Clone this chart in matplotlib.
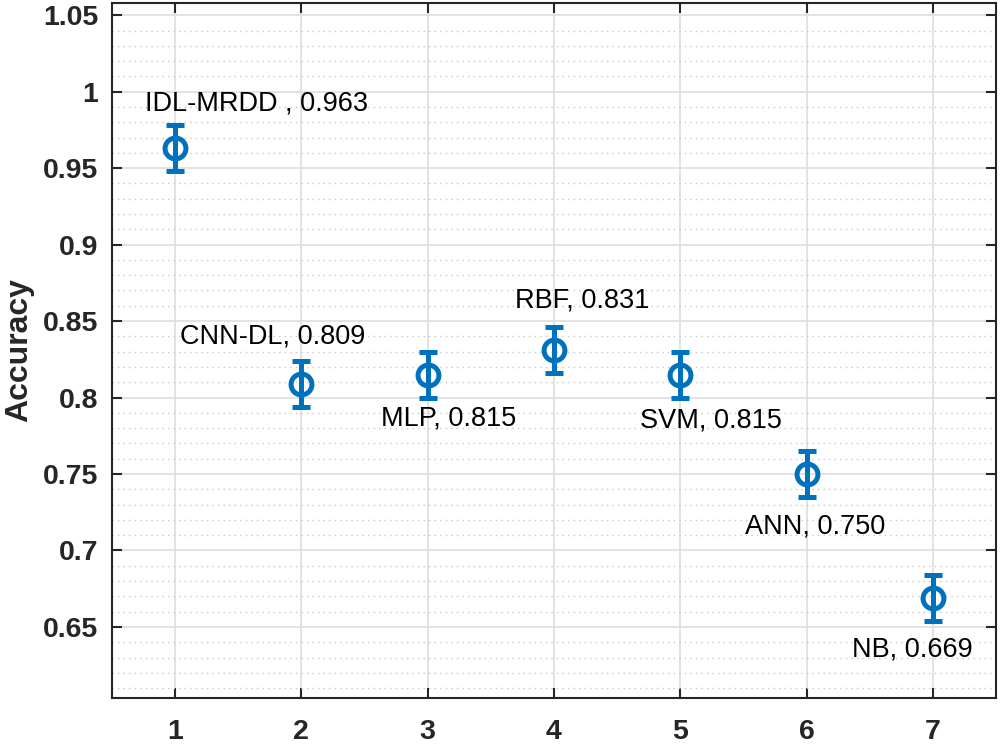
import matplotlib.pyplot as plt
from matplotlib.ticker import MultipleLocator

plt.rcParams["font.family"] = ["Liberation Sans", "DejaVu Sans"]

methods = ["IDL-MRDD ", "CNN-DL", "MLP", "RBF", "SVM", "ANN", "NB"]
x_pos = [1, 2, 3, 4, 5, 6, 7]
accuracy = [0.963, 0.809, 0.815, 0.831, 0.815, 0.750, 0.669]
err = [0.015, 0.015, 0.015, 0.015, 0.015, 0.015, 0.015]
# label anchor (left edge, vertical centre) in data units
label_x = [0.76, 1.04, 2.63, 3.69, 4.68, 5.51, 6.36]
label_y = [0.9925, 0.840, 0.7866, 0.8637, 0.785, 0.7154, 0.635]

fig = plt.figure(figsize=(10, 7.48), dpi=100)
ax = fig.add_axes([0.112, 0.0668, 0.884, 0.9292])

ax.errorbar(
    x_pos, accuracy, yerr=err,
    fmt="o", color="#0072BD", markerfacecolor="none",
    markersize=15, markeredgewidth=3.6, elinewidth=3.6,
    capsize=6.5, capthick=3.6, zorder=3,
)

for lx, ly, name, acc in zip(label_x, label_y, methods, accuracy):
    ax.text(lx, ly, f"{name}, {acc:.3f}", fontsize=19.5, ha="left",
            va="center", color="black")

ax.set_xlim(0.5, 7.5)
ax.set_ylim(0.6035, 1.058)
ax.set_xticks(x_pos)
ax.yaxis.set_major_locator(MultipleLocator(0.05))
ax.yaxis.set_minor_locator(MultipleLocator(0.01))
ax.set_yticklabels([f"{v:g}" for v in ax.get_yticks()])

ax.grid(True, which="major", color="#dedede", linewidth=1.2)
ax.grid(True, which="minor", axis="y", color="#c8c8c8", linestyle=(0, (1, 3)),
        linewidth=1)
ax.set_axisbelow(True)

ax.tick_params(axis="both", which="major", direction="in", length=7, width=1.5,
               top=True, right=True, labelsize=20.5, colors="#262626")
ax.tick_params(axis="x", which="major", pad=15)
ax.tick_params(axis="y", which="major", pad=10)
ax.tick_params(axis="both", which="minor", length=0)
for lbl in ax.get_xticklabels() + ax.get_yticklabels():
    lbl.set_fontweight("bold")
for s in ax.spines.values():
    s.set_linewidth(1.5)
    s.set_color("#262626")

ax.set_ylabel("Accuracy", fontsize=23, fontweight="bold", color="#262626",
              labelpad=6)

fig.savefig("out.png", dpi=100)
